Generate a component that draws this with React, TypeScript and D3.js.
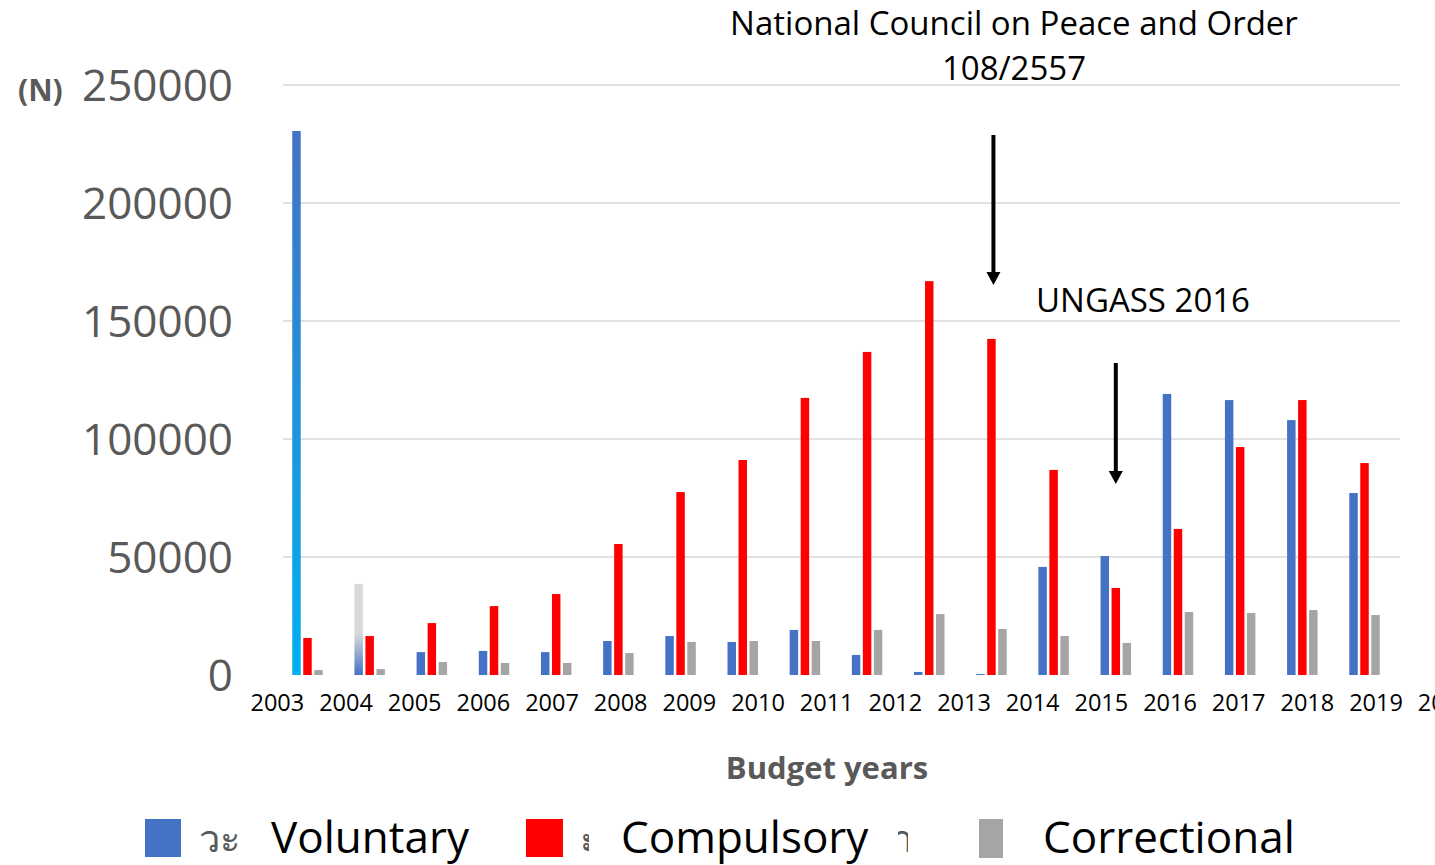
import React from "react";
import * as d3 from "d3";

const years = [2003, 2004, 2005, 2006, 2007, 2008, 2009, 2010, 2011, 2012, 2013, 2014, 2015, 2016, 2017, 2018, 2019, 2020];
const voluntary = [230500, 38600, 9700, 10200, 9700, 14400, 16500, 14000, 19100, 8500, 1300, 400, 45800, 50400, 119100, 116500, 108000, 77100];
const compulsory = [15700, 16500, 22000, 29200, 34300, 55500, 77500, 91100, 117400, 136900, 166900, 142400, 86900, 36900, 61900, 96600, 116500, 89800];
const correctional = [2100, 2500, 5500, 5100, 5100, 9300, 14000, 14400, 14400, 19100, 25800, 19500, 16500, 13600, 26700, 26300, 27500, 25400];
const yTicks = [0, 50000, 100000, 150000, 200000, 250000];
const tickLabels = ["2003", "2004", "2005", "2006", "2007", "2008", "2009", "2010", "2011", "2012", "2013", "2014", "2015", "2016", "2017", "2018", "2019", "2020"];
const seriesNames = ["Voluntary", "Compulsory", "Correctional"];
const seriesColors = ["#4472C4", "#FF0000", "#A5A5A5"];

const W = 1435;
const H = 865;
const FONT = "'Open Sans', 'DejaVu Sans', sans-serif";

export default function App() {
  const y = d3.scaleLinear().domain([0, 250000]).range([675, 85]);
  const x0 = d3.scaleBand<number>().domain(years).range([276.4, 1395.6]).paddingInner(0).paddingOuter(0);
  const x1 = d3.scaleBand<string>().domain(seriesNames).range([-16.5, 16.5]).paddingInner(0.23).paddingOuter(0.115);
  const labelX = d3.scaleLinear().domain([2004, 2019]).range([346, 1376]);
  const values = [voluntary, compulsory, correctional];
  const cx = (yr: number) => (x0(yr) ?? 0) + x0.bandwidth() / 2;

  const fillFor = (si: number, i: number) => {
    if (si === 0 && years[i] === 2003) return "url(#g2003)";
    if (si === 0 && years[i] === 2004) return "url(#g2004)";
    return seriesColors[si];
  };

  const arrow = (xc: number, y0: number, y1: number) => (
    <g>
      <line x1={xc} x2={xc} y1={y0} y2={y1 - 12} stroke="#000" strokeWidth={4} />
      <path d={`M${xc - 7},${y1 - 13} L${xc + 7},${y1 - 13} L${xc},${y1} Z`} fill="#000" />
    </g>
  );

  return (
    <svg width={W} height={H} style={{ position: "absolute", left: 0, top: 0, background: "#fff" }} fontFamily={FONT}>
      <defs>
        <linearGradient id="g2003" x1="0" y1="0" x2="0" y2="1">
          <stop offset="0" stopColor="#4472C4" />
          <stop offset="0.55" stopColor="#1E95DC" />
          <stop offset="1" stopColor="#00B0F0" />
        </linearGradient>
        <linearGradient id="g2004" x1="0" y1="0" x2="0" y2="1">
          <stop offset="0" stopColor="#D9D9D9" />
          <stop offset="0.55" stopColor="#D9D9D9" />
          <stop offset="1" stopColor="#4472C4" />
        </linearGradient>
        <clipPath id="clipA"><rect x={580} y={815} width={9} height={50} /></clipPath>
        <clipPath id="clipB"><rect x={898} y={815} width={10} height={50} /></clipPath>
        <clipPath id="clipPage"><rect x={0} y={0} width={W} height={H} /></clipPath>
      </defs>
      <rect x={0} y={0} width={W} height={H} fill="#fff" />

      {/* gridlines */}
      {yTicks.filter((t) => t > 0).map((t) => (
        <line key={t} x1={283} x2={1400} y1={y(t)} y2={y(t)} stroke="#D9D9D9" strokeWidth={1.5} />
      ))}

      {/* y tick labels */}
      {yTicks.map((t) => (
        <text key={t} x={233} y={y(t)} dy="0.36em" textAnchor="end" fontSize={44} fill="#595959">
          {t}
        </text>
      ))}
      <text x={18} y={101} fontSize={30} fontWeight={700} fill="#595959">(N)</text>

      {/* bars */}
      {years.map((yr, i) => (
        <g key={yr} transform={`translate(${cx(yr)},0)`}>
          {values.map((arr, si) => (
            <rect
              key={si}
              x={x1(seriesNames[si])}
              y={y(arr[i])}
              width={x1.bandwidth()}
              height={y(0) - y(arr[i])}
              fill={fillFor(si, i)}
            />
          ))}
        </g>
      ))}

      {/* x labels */}
      <g clipPath="url(#clipPage)">
        {tickLabels.map((l, i) => (
          <text key={l} x={labelX(years[i])} y={711} textAnchor="middle" fontSize={23.5} fill="#000">
            {l}
          </text>
        ))}
      </g>
      <text x={827} y={779} textAnchor="middle" fontSize={31} fontWeight={700} fill="#595959">Budget years</text>

      {/* annotations */}
      <text x={1014} y={35} textAnchor="middle" fontSize={33} fill="#000">National Council on Peace and Order</text>
      <text x={1014} y={80} textAnchor="middle" fontSize={33} fill="#000">108/2557</text>
      {arrow(cx(2014) + 2, 135, 285)}
      <text x={1143} y={312} textAnchor="middle" fontSize={33} fill="#000">UNGASS 2016</text>
      {arrow(cx(2016), 363, 484)}

      {/* legend */}
      <rect x={145} y={819} width={36} height={38} fill={seriesColors[0]} />
      <text x={199} y={852} fontSize={38} fill="#595959">วะ</text>
      <text x={271} y={853} fontSize={44} fill="#000">{seriesNames[0]}</text>
      <rect x={526} y={819} width={37} height={38} fill={seriesColors[1]} />
      <g clipPath="url(#clipA)"><text x={580} y={852} fontSize={38} fill="#595959">ะ</text></g>
      <text x={621} y={853} fontSize={44} fill="#000">{seriesNames[1]}</text>
      <g clipPath="url(#clipB)"><text x={892} y={852} fontSize={38} fill="#595959">า</text></g>
      <rect x={979} y={819} width={24} height={39} fill={seriesColors[2]} />
      <text x={1043} y={853} fontSize={44} fill="#000">{seriesNames[2]}</text>
    </svg>
  );
}
